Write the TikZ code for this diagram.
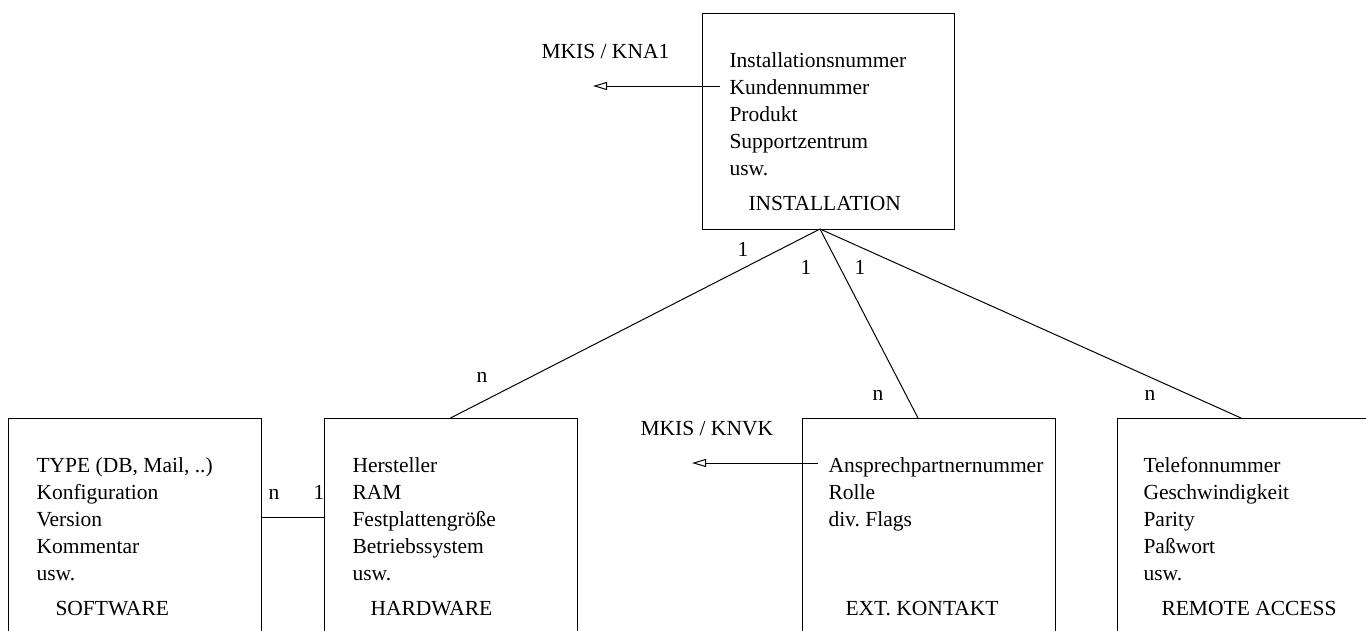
\documentclass[tikz,border=0pt]{standalone}
\usepackage{fontspec}
\setmainfont{Liberation Serif}
\usetikzlibrary{arrows.meta}
\frenchspacing
\begin{document}
\begin{tikzpicture}[x=1pt, y=-1pt, line width=1pt,
  entity/.style={draw, rectangle, inner sep=0pt, outer sep=0pt, anchor=north west,
                 minimum width=253, minimum height=230},
  txt/.style={inner sep=0pt, font=\fontsize{21.5}{27}\selectfont},
  attr/.style={txt, anchor=base west},
  card/.style={txt, anchor=base},
  refarrow/.style={-{Triangle[open, length=14pt, width=8pt]}}]
\useasboundingbox (0,0) rectangle (1366,630);
\clip (0,0) rectangle (1366,630);

% entity boxes
\node[entity, minimum width=252, minimum height=216] (inst) at (702,13) {};
\node[entity] (sw)  at (8,418) {};
\node[entity] (hw)  at (324,418) {};
\node[entity] (ext) at (802,418) {};
\node[entity] (ra)  at (1117,418) {};

% INSTALLATION
\foreach \t [count=\i] in {Installationsnummer, Kundennummer, Produkt, Supportzentrum, usw.}
  \node[attr] (inst-a\i) at (729, {67+27*(\i-1)}) {\t};
\node[attr] (inst-t) at (748,210) {INSTALLATION};

% SOFTWARE
\foreach \t [count=\i] in {{TYPE (DB, Mail, ..)}, Konfiguration, Version, Kommentar, usw.}
  \node[attr] (sw-a\i) at (36, {472+27*(\i-1)}) {\t};
\node[attr] (sw-t) at (55,615) {SOFTWARE};

% HARDWARE
\foreach \t [count=\i] in {Hersteller, RAM, Festplattengröße, Betriebssystem, usw.}
  \node[attr] (hw-a\i) at (352, {472+27*(\i-1)}) {\t};
\node[attr] (hw-t) at (370,615) {HARDWARE};

% EXT. KONTAKT
\foreach \t [count=\i] in {Ansprechpartnernummer, Rolle, div. Flags}
  \node[attr] (ext-a\i) at (828, {472+27*(\i-1)}) {\t};
\node[attr] (ext-t) at (845,615) {EXT. KONTAKT};

% REMOTE ACCESS
\foreach \t [count=\i] in {Telefonnummer, Geschwindigkeit, Parity, Paßwort, usw.}
  \node[attr] (ra-a\i) at (1143, {472+27*(\i-1)}) {\t};
\node[attr] (ra-t) at (1161,615) {REMOTE ACCESS};

% external references
\node[attr] (kna1) at (541,58) {MKIS / KNA1};
\node[attr] (knvk) at (640,435) {MKIS / KNVK};
\coordinate (kna1-from) at (720,86);
\coordinate (kna1-to)   at (593,86);
\coordinate (knvk-from) at (818,463);
\coordinate (knvk-to)   at (692,463);
\draw[refarrow] (kna1-from) -- (kna1-to);
\draw[refarrow] (knvk-from) -- (knvk-to);

% relationships
\coordinate (apex)    at (820,229);
\coordinate (ext-top) at (918,418);
\coordinate (ra-top)  at (1241,418);
\coordinate (swhw)    at (0,517);
\draw (apex) -- (hw.north);
\draw (apex) -- (ext-top);
\draw (apex) -- (ra-top);
\draw (sw.east |- swhw) -- (hw.west |- swhw);

% cardinalities
\node[card] (c-hw-1)  at (743,256) {1};
\node[card] (c-ext-1) at (806,274) {1};
\node[card] (c-ra-1)  at (860,274) {1};
\node[card] (c-hw-n)  at (482,382) {n};
\node[card] (c-ext-n) at (878,400) {n};
\node[card] (c-ra-n)  at (1150,400) {n};
\node[card] (c-sw-n)  at (274,499) {n};
\node[card] (c-sw-1)  at (319,499) {1};
\end{tikzpicture}
\end{document}
